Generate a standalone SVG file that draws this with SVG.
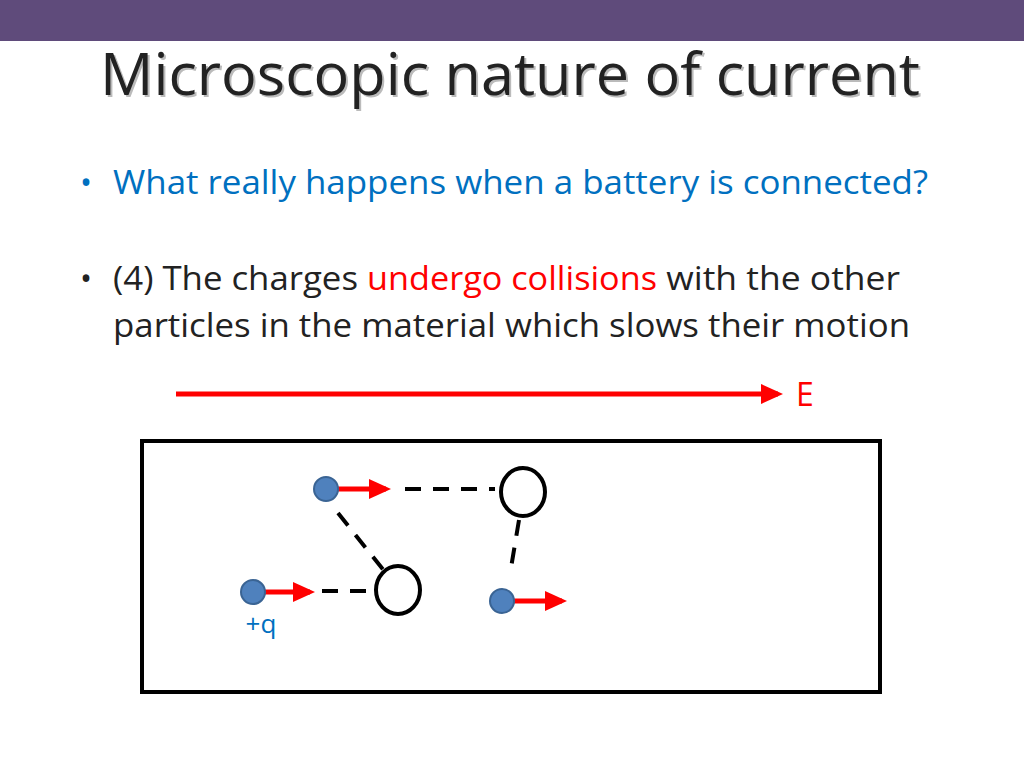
<svg xmlns="http://www.w3.org/2000/svg" width="1024" height="768" viewBox="0 0 1024 768">
<style>
.t{font-family:"Open Sans","Liberation Sans",sans-serif}
.dot{fill:#4F81BD;stroke:#3A6494;stroke-width:2}
.ring{fill:#fff;stroke:#000;stroke-width:4}
.arr{stroke:#FF0000;stroke-width:5}
.dash{stroke:#000;stroke-width:4;stroke-dasharray:16,12;fill:none}
</style>
<defs>
<marker id="ah" markerWidth="4.4" markerHeight="4" refX="3.4" refY="2" orient="auto" markerUnits="strokeWidth"><path d="M0,0L4.4,2L0,4z" fill="#FF0000"/></marker>
</defs>
<rect width="1024" height="768" fill="#fff"/>
<rect width="1024" height="41" fill="#5F4B7B"/>
<text class="t" x="102" y="97" font-size="58" fill="#bbb" textLength="820" lengthAdjust="spacingAndGlyphs">Microscopic nature of current</text>
<text class="t" x="100" y="95" font-size="58" fill="#222" textLength="820" lengthAdjust="spacingAndGlyphs">Microscopic nature of current</text>
<text class="t" x="80" y="194" font-size="32" fill="#0070C0">• <tspan x="113" textLength="815" lengthAdjust="spacingAndGlyphs">What really happens when a battery is connected?</tspan></text>
<text class="t" x="80" y="290" font-size="32" fill="#222">• <tspan x="113" textLength="254" lengthAdjust="spacingAndGlyphs">(4) The charges </tspan><tspan fill="#FF0000" textLength="290" lengthAdjust="spacingAndGlyphs">undergo collisions</tspan><tspan textLength="243" lengthAdjust="spacingAndGlyphs"> with the other</tspan></text>
<text class="t" x="113" y="337" font-size="32" fill="#222" textLength="797" lengthAdjust="spacingAndGlyphs">particles in the material which slows their motion</text>
<line x1="176" y1="394" x2="778" y2="394" class="arr" marker-end="url(#ah)"/>
<text class="t" x="796" y="406" font-size="32" fill="#FF0000">E</text>
<rect x="142" y="441" width="738" height="251" fill="none" stroke="#000" stroke-width="4"/>
<g id="connectors">
<line x1="405" y1="489" x2="495" y2="489" class="dash"/>
<line x1="338" y1="513" x2="385" y2="572" class="dash"/>
<line x1="322" y1="591" x2="372" y2="591" class="dash"/>
<line x1="519" y1="520" x2="511" y2="568" class="dash"/>
<line x1="265" y1="592" x2="310" y2="592" class="arr" marker-end="url(#ah)"/>
<line x1="338" y1="489" x2="386" y2="489" class="arr" marker-end="url(#ah)"/>
<line x1="514" y1="601" x2="562" y2="601" class="arr" marker-end="url(#ah)"/>
</g>
<g id="q1"><circle cx="253" cy="592" r="12" class="dot"/></g>
<g id="q2"><circle cx="326" cy="489" r="12" class="dot"/></g>
<g id="q3"><circle cx="502" cy="601" r="12" class="dot"/></g>
<g id="a1"><ellipse cx="398" cy="590" rx="22" ry="24" class="ring"/></g>
<g id="a2"><ellipse cx="523" cy="492" rx="22" ry="24" class="ring"/></g>
<text class="t" x="261" y="633" font-size="26" fill="#0070C0" text-anchor="middle">+q</text>
</svg>
